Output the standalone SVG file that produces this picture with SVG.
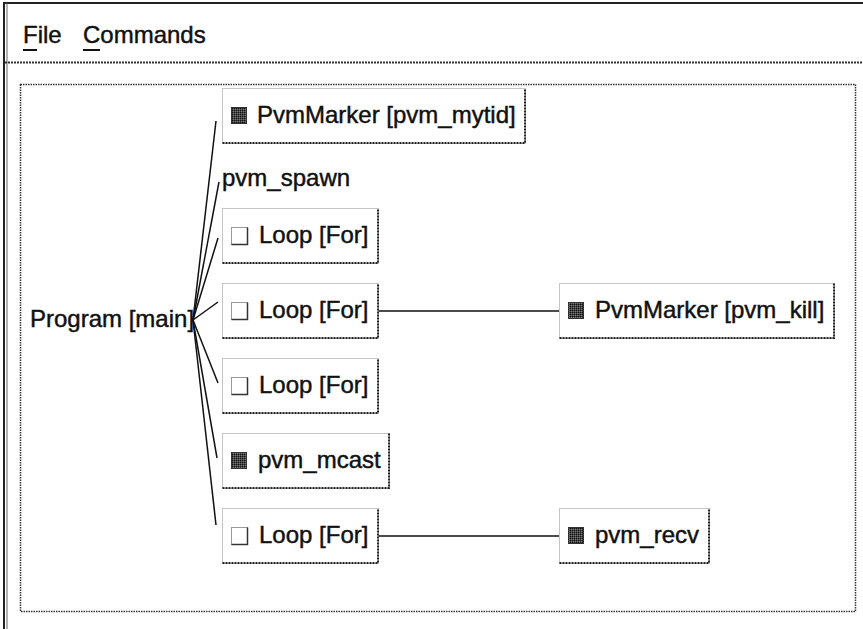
<svg xmlns="http://www.w3.org/2000/svg" width="863" height="629" viewBox="0 0 863 629">
  <style>
    text { font-family: "Liberation Sans", Arial, sans-serif; font-size: 24px; fill: #111; stroke: #111; stroke-width: 0.45; }
    .frame-lt { fill: #fff; stroke: #8a8a8a; stroke-width: 1; stroke-dasharray: 1 1; }
    .frame-dk { fill: none; stroke: #222; stroke-width: 2; stroke-dasharray: 2 1; }
    .edge { fill: none; stroke: #111; stroke-width: 1.5; }
    .chk { fill: #fff; stroke: #9a9a9a; stroke-width: 1; }
    .chk-dk { fill: none; stroke: #333; stroke-width: 1.5; }
    .mark { fill: url(#hatch); stroke: #333; stroke-width: 1; }
  </style>
  <defs>
    <pattern id="hatch" width="2" height="2" patternUnits="userSpaceOnUse">
      <rect width="2" height="2" fill="#444"/>
      <rect width="1" height="1" fill="#111"/>
      <rect x="1" y="1" width="1" height="1" fill="#777"/>
    </pattern>
  </defs>

  <rect width="863" height="629" fill="#fff"/>

  <!-- window frame and menu bar -->
  <g id="window">
    <line x1="4" y1="3" x2="863" y2="3" stroke="#222" stroke-width="2"/>
    <line x1="4" y1="2" x2="4" y2="629" stroke="#222" stroke-width="2"/>
    <line x1="7" y1="3" x2="7" y2="629" stroke="#666" stroke-width="1"/>
    <line x1="5" y1="62.5" x2="863" y2="62.5" stroke="#333" stroke-width="2" stroke-dasharray="2 1"/>
    <text x="23" y="43">File</text>
    <text x="83" y="43">Commands</text>
    <line x1="23" y1="50" x2="37" y2="50" stroke="#111" stroke-width="2"/>
    <line x1="83" y1="50" x2="100" y2="50" stroke="#111" stroke-width="2"/>
  </g>

  <!-- drawing canvas -->
  <g id="canvas">
    <rect x="20.5" y="84.5" width="835" height="527" fill="none" stroke="#333" stroke-width="1.5" stroke-dasharray="1.5 1"/>
  </g>

  <!-- connectors -->
  <g id="connectors">
    <line class="edge" x1="193" y1="320" x2="216" y2="121"/>
    <line class="edge" x1="193" y1="320" x2="219" y2="182"/>
    <line class="edge" x1="193" y1="320" x2="218" y2="238"/>
    <line class="edge" x1="193" y1="320" x2="218" y2="302"/>
    <line class="edge" x1="193" y1="320" x2="218" y2="383"/>
    <line class="edge" x1="193" y1="320" x2="217" y2="458"/>
    <line class="edge" x1="193" y1="320" x2="216" y2="525"/>
    <line class="edge" x1="378" y1="311" x2="559" y2="311"/>
    <line class="edge" x1="378" y1="536" x2="559" y2="536"/>
  </g>

  <!-- root -->
  <g id="program-main">
    <text x="30" y="327">Program [main]</text>
  </g>

  <g id="pvm-mytid">
    <rect class="frame-lt" x="222.5" y="88.5" width="303" height="55"/>
    <path class="frame-dk" d="M222.5 143 H525 V88.5"/>
    <rect class="mark" x="231.5" y="107.5" width="15" height="16"/>
    <text x="257" y="123">PvmMarker [pvm_mytid]</text>
  </g>

  <g id="pvm-spawn">
    <text x="222" y="186">pvm_spawn</text>
  </g>

  <g id="loop-1">
    <rect class="frame-lt" x="222.5" y="208.5" width="156" height="55"/>
    <path class="frame-dk" d="M222.5 263 H378 V208.5"/>
    <rect class="chk" x="231.5" y="227.5" width="16" height="17"/>
    <path class="chk-dk" d="M231.5 244.5 H247.5 V227.5"/>
    <text x="259" y="243">Loop [For]</text>
  </g>

  <g id="loop-2">
    <rect class="frame-lt" x="222.5" y="283.5" width="156" height="55"/>
    <path class="frame-dk" d="M222.5 338 H378 V283.5"/>
    <rect class="chk" x="231.5" y="302.5" width="16" height="17"/>
    <path class="chk-dk" d="M231.5 319.5 H247.5 V302.5"/>
    <text x="259" y="318">Loop [For]</text>
  </g>

  <g id="pvm-kill">
    <rect class="frame-lt" x="559.5" y="283.5" width="275" height="55"/>
    <path class="frame-dk" d="M559.5 338 H834 V283.5"/>
    <rect class="mark" x="568.5" y="302.5" width="15" height="16"/>
    <text x="595" y="318">PvmMarker [pvm_kill]</text>
  </g>

  <g id="loop-3">
    <rect class="frame-lt" x="222.5" y="358.5" width="156" height="55"/>
    <path class="frame-dk" d="M222.5 413 H378 V358.5"/>
    <rect class="chk" x="231.5" y="377.5" width="16" height="17"/>
    <path class="chk-dk" d="M231.5 394.5 H247.5 V377.5"/>
    <text x="259" y="393">Loop [For]</text>
  </g>

  <g id="pvm-mcast">
    <rect class="frame-lt" x="222.5" y="433.5" width="167" height="55"/>
    <path class="frame-dk" d="M222.5 488 H389 V433.5"/>
    <rect class="mark" x="231.5" y="452.5" width="15" height="16"/>
    <text x="258" y="468">pvm_mcast</text>
  </g>

  <g id="loop-4">
    <rect class="frame-lt" x="222.5" y="508.5" width="156" height="55"/>
    <path class="frame-dk" d="M222.5 563 H378 V508.5"/>
    <rect class="chk" x="231.5" y="527.5" width="16" height="17"/>
    <path class="chk-dk" d="M231.5 544.5 H247.5 V527.5"/>
    <text x="259" y="543">Loop [For]</text>
  </g>

  <g id="pvm-recv">
    <rect class="frame-lt" x="559.5" y="508.5" width="150" height="55"/>
    <path class="frame-dk" d="M559.5 563 H709 V508.5"/>
    <rect class="mark" x="568.5" y="527.5" width="15" height="16"/>
    <text x="595" y="543">pvm_recv</text>
  </g>
</svg>
